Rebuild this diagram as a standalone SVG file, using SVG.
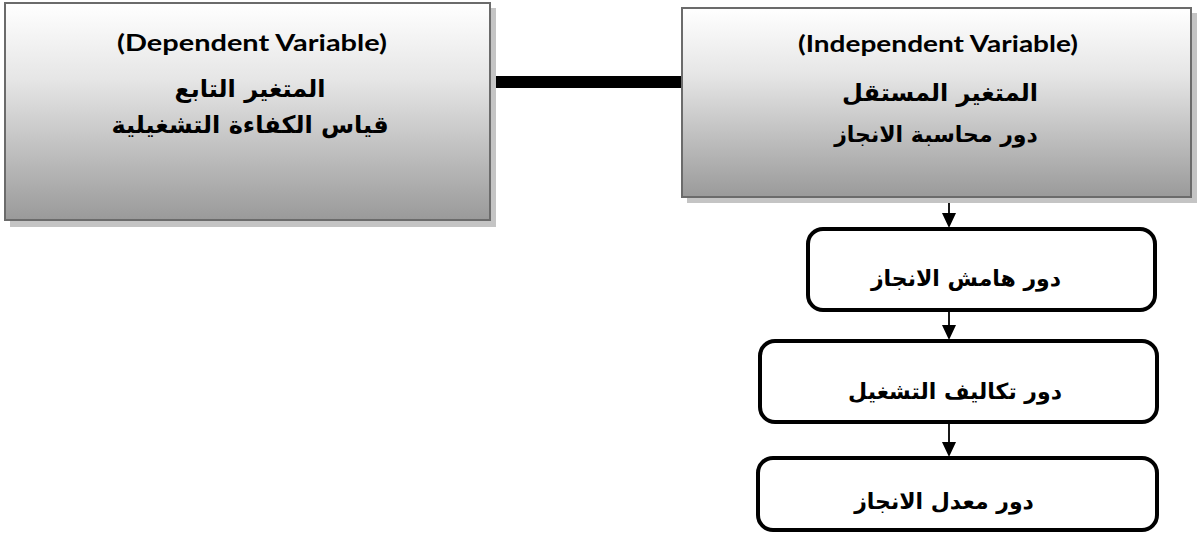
<svg xmlns="http://www.w3.org/2000/svg" width="1202" height="541" viewBox="0 0 1202 541">
<defs>
<linearGradient id="g" x1="0" y1="0" x2="0" y2="1">
<stop offset="0" stop-color="#ffffff"/>
<stop offset="0.35" stop-color="#e6e6e6"/>
<stop offset="1" stop-color="#9a9a9a"/>
</linearGradient>
<style>
.big{fill:url(#g);stroke:#6b6b6b;stroke-width:2}
.shadow{fill:#c4c4c4}
.rbox{fill:#fff;stroke:#000;stroke-width:4}
.en{font-family:Lato,"Liberation Sans",sans-serif;font-weight:bold;font-size:22px;text-anchor:middle;fill:#000}
.ar{font-family:"DejaVu Sans","Noto Sans",sans-serif;font-weight:bold;text-anchor:middle;fill:#000}
.conn{stroke:#000;stroke-width:1.8;fill:none}
.head{fill:#000}
</style>
</defs>
<g id="connectors">
<rect x="489" y="76" width="193" height="12" fill="#000"/>
<line class="conn" x1="949" y1="198" x2="949" y2="214"/>
<path class="head" d="M942,213 L956,213 L949,228 Z"/>
<line class="conn" x1="949" y1="311" x2="949" y2="326"/>
<path class="head" d="M942,325 L956,325 L949,340 Z"/>
<line class="conn" x1="949" y1="423" x2="949" y2="443"/>
<path class="head" d="M942,442 L956,442 L949,457 Z"/>
</g>
<g id="dependent">
<rect class="shadow" x="10" y="8" width="486" height="219"/>
<rect class="big" x="5" y="3" width="485" height="217"/>
<text class="en" x="252" y="51" textLength="270" lengthAdjust="spacingAndGlyphs">(Dependent Variable)</text>
<text class="ar" x="250" y="97" font-size="24" direction="rtl">المتغير التابع</text>
<text class="ar" x="250" y="133" font-size="24" direction="rtl">قياس الكفاءة التشغيلية</text>
</g>
<g id="independent">
<rect class="shadow" x="687" y="13" width="510" height="190"/>
<rect class="big" x="682" y="8" width="509" height="189"/>
<text class="en" x="938" y="52" textLength="280" lengthAdjust="spacingAndGlyphs">(Independent Variable)</text>
<text class="ar" x="940" y="101" font-size="24" direction="rtl">المتغير المستقل</text>
<text class="ar" x="936" y="142" font-size="22" direction="rtl">دور محاسبة الانجاز</text>
</g>
<g id="margin">
<rect class="rbox" x="808" y="229" width="347" height="81" rx="15"/>
<text class="ar" x="966" y="286" font-size="22" direction="rtl">دور هامش الانجاز</text>
</g>
<g id="costs">
<rect class="rbox" x="760" y="341" width="397" height="81" rx="15"/>
<text class="ar" x="955" y="399" font-size="22" direction="rtl">دور تكاليف التشغيل</text>
</g>
<g id="rate">
<rect class="rbox" x="758" y="458" width="399" height="72" rx="15"/>
<text class="ar" x="944" y="509" font-size="22" direction="rtl">دور معدل الانجاز</text>
</g>
</svg>
